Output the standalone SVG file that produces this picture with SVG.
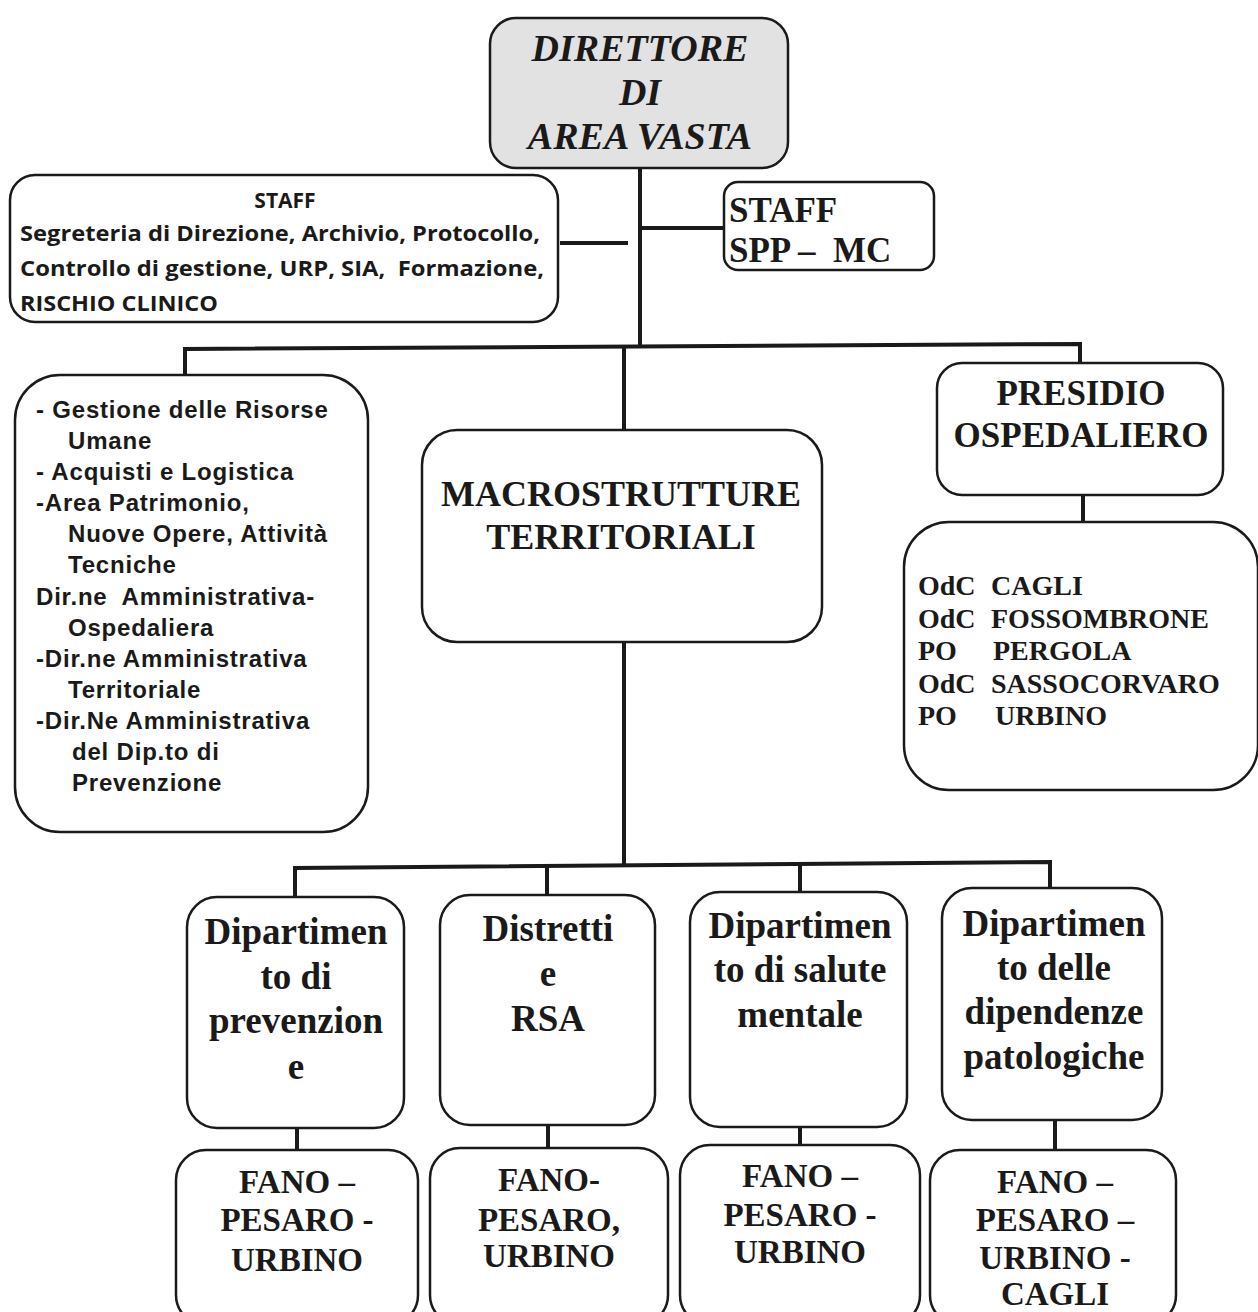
<svg xmlns="http://www.w3.org/2000/svg" width="1258" height="1312" viewBox="0 0 1258 1312">
<style>
.box{fill:#ffffff;stroke:#1a1a1a;stroke-width:2.5}
.conn{stroke:#1a1a1a;stroke-width:4;fill:none}
.ser{font-family:"Liberation Serif",serif;font-weight:bold;fill:#1a1a1a;white-space:pre}
.sans{font-family:"Liberation Sans",Arial,sans-serif;font-weight:bold;fill:#1a1a1a;white-space:pre}
.cal{font-family:"Open Sans","Liberation Sans",sans-serif;fill:#1a1a1a;white-space:pre}
</style>
<rect width="1258" height="1312" fill="#ffffff"/>
<g id="connectors">
<line class="conn" x1="640" y1="168" x2="640" y2="348"/>
<line class="conn" x1="560" y1="243" x2="628" y2="243"/>
<line class="conn" x1="640" y1="228" x2="725" y2="228"/>
<polyline class="conn" points="185,375 185,349 1080,344 1080,363"/>
<line class="conn" x1="624" y1="348" x2="624" y2="430"/>
<line class="conn" x1="1083" y1="495" x2="1083" y2="522"/>
<line class="conn" x1="624" y1="642" x2="624" y2="864"/>
<polyline class="conn" points="295,897 295,868 1050,862 1050,888"/>
<line class="conn" x1="547" y1="866" x2="547" y2="895"/>
<line class="conn" x1="800" y1="864" x2="800" y2="892"/>
<line class="conn" x1="297" y1="1128" x2="297" y2="1150"/>
<line class="conn" x1="548" y1="1125" x2="548" y2="1148"/>
<line class="conn" x1="800" y1="1127" x2="800" y2="1145"/>
<line class="conn" x1="1055" y1="1120" x2="1055" y2="1150"/>
</g>
<g id="direttore">
<rect x="490" y="18" width="298" height="150" rx="26" fill="#e2e2e2" stroke="#1a1a1a" stroke-width="2.5"/>
<text class="ser" font-style="italic" font-size="38" text-anchor="middle"><tspan x="640" y="61">DIRETTORE</tspan><tspan x="640" y="105">DI</tspan><tspan x="640" y="149">AREA VASTA</tspan></text>
</g>
<g id="staff-left">
<rect class="box" x="10" y="175" width="548" height="147" rx="25"/>
<text class="cal" font-size="21" font-weight="bold"><tspan x="285" y="208" text-anchor="middle">STAFF</tspan><tspan x="20" y="241" textLength="520" lengthAdjust="spacingAndGlyphs">Segreteria di Direzione, Archivio, Protocollo,</tspan><tspan x="20" y="276" textLength="524" lengthAdjust="spacingAndGlyphs">Controllo di gestione, URP, SIA,  Formazione,</tspan><tspan x="20" y="311" textLength="198" lengthAdjust="spacingAndGlyphs">RISCHIO CLINICO</tspan></text>
</g>
<g id="staff-right">
<rect class="box" x="724" y="182" width="210" height="88" rx="14"/>
<text class="ser" font-size="35"><tspan x="729" y="222">STAFF</tspan><tspan x="729" y="262">SPP –  MC</tspan></text>
</g>
<g id="amministrativa">
<rect class="box" x="15" y="375" width="353" height="457" rx="45"/>
<text class="sans" font-size="24" letter-spacing="0.8">
<tspan x="36" y="418">- Gestione delle Risorse</tspan>
<tspan x="68" y="449">Umane</tspan>
<tspan x="36" y="480">- Acquisti e Logistica</tspan>
<tspan x="36" y="511">-Area Patrimonio,</tspan>
<tspan x="68" y="542">Nuove Opere, Attività</tspan>
<tspan x="68" y="573">Tecniche</tspan>
<tspan x="36" y="605">Dir.ne  Amministrativa-</tspan>
<tspan x="68" y="636">Ospedaliera</tspan>
<tspan x="36" y="667">-Dir.ne Amministrativa</tspan>
<tspan x="68" y="698">Territoriale</tspan>
<tspan x="36" y="729">-Dir.Ne Amministrativa</tspan>
<tspan x="72" y="760">del Dip.to di</tspan>
<tspan x="72" y="791">Prevenzione</tspan>
</text>
</g>
<g id="macrostrutture">
<rect class="box" x="422" y="430" width="400" height="212" rx="35"/>
<text class="ser" font-size="36" text-anchor="middle"><tspan x="621" y="506">MACROSTRUTTURE</tspan><tspan x="621" y="549">TERRITORIALI</tspan></text>
</g>
<g id="presidio">
<rect class="box" x="937" y="363" width="286" height="132" rx="25"/>
<text class="ser" font-size="35" text-anchor="middle"><tspan x="1081" y="405">PRESIDIO</tspan><tspan x="1081" y="447">OSPEDALIERO</tspan></text>
</g>
<g id="presidio-sedi">
<rect class="box" x="904" y="522" width="354" height="268" rx="45"/>
<text class="ser" font-size="28">
<tspan x="918" y="595">OdC</tspan><tspan x="991" y="595">CAGLI</tspan>
<tspan x="918" y="628">OdC</tspan><tspan x="991" y="628">FOSSOMBRONE</tspan>
<tspan x="918" y="660">PO</tspan><tspan x="993" y="660">PERGOLA</tspan>
<tspan x="918" y="693">OdC</tspan><tspan x="991" y="693">SASSOCORVARO</tspan>
<tspan x="918" y="725">PO</tspan><tspan x="995" y="725">URBINO</tspan>
</text>
</g>
<g id="dip-prevenzione">
<rect class="box" x="187" y="897" width="217" height="231" rx="30"/>
<text class="ser" font-size="37" text-anchor="middle"><tspan x="296" y="944">Dipartimen</tspan><tspan x="296" y="989">to di</tspan><tspan x="296" y="1033">prevenzion</tspan><tspan x="296" y="1079">e</tspan></text>
</g>
<g id="distretti">
<rect class="box" x="440" y="895" width="215" height="230" rx="30"/>
<text class="ser" font-size="37" text-anchor="middle"><tspan x="548" y="941">Distretti</tspan><tspan x="548" y="986">e</tspan><tspan x="548" y="1031">RSA</tspan></text>
</g>
<g id="dip-salute-mentale">
<rect class="box" x="690" y="892" width="217" height="235" rx="30"/>
<text class="ser" font-size="37" text-anchor="middle"><tspan x="800" y="938">Dipartimen</tspan><tspan x="800" y="982">to di salute</tspan><tspan x="800" y="1027">mentale</tspan></text>
</g>
<g id="dip-dipendenze">
<rect class="box" x="942" y="888" width="220" height="232" rx="30"/>
<text class="ser" font-size="37" text-anchor="middle"><tspan x="1054" y="936">Dipartimen</tspan><tspan x="1054" y="980">to delle</tspan><tspan x="1054" y="1024">dipendenze</tspan><tspan x="1054" y="1069">patologiche</tspan></text>
</g>
<g id="sedi-prevenzione">
<rect class="box" x="176" y="1150" width="242" height="175" rx="30"/>
<text class="ser" font-size="33" text-anchor="middle"><tspan x="297" y="1193">FANO –</tspan><tspan x="297" y="1231">PESARO -</tspan><tspan x="297" y="1271">URBINO</tspan></text>
</g>
<g id="sedi-distretti">
<rect class="box" x="430" y="1148" width="238" height="177" rx="30"/>
<text class="ser" font-size="33" text-anchor="middle"><tspan x="549" y="1191">FANO-</tspan><tspan x="549" y="1231">PESARO,</tspan><tspan x="549" y="1267">URBINO</tspan></text>
</g>
<g id="sedi-salute-mentale">
<rect class="box" x="680" y="1145" width="240" height="180" rx="30"/>
<text class="ser" font-size="33" text-anchor="middle"><tspan x="800" y="1187">FANO –</tspan><tspan x="800" y="1226">PESARO -</tspan><tspan x="800" y="1263">URBINO</tspan></text>
</g>
<g id="sedi-dipendenze">
<rect class="box" x="930" y="1150" width="246" height="175" rx="30"/>
<text class="ser" font-size="33" text-anchor="middle"><tspan x="1055" y="1193">FANO –</tspan><tspan x="1055" y="1231">PESARO –</tspan><tspan x="1055" y="1269">URBINO -</tspan><tspan x="1055" y="1305">CAGLI</tspan></text>
</g>
</svg>
